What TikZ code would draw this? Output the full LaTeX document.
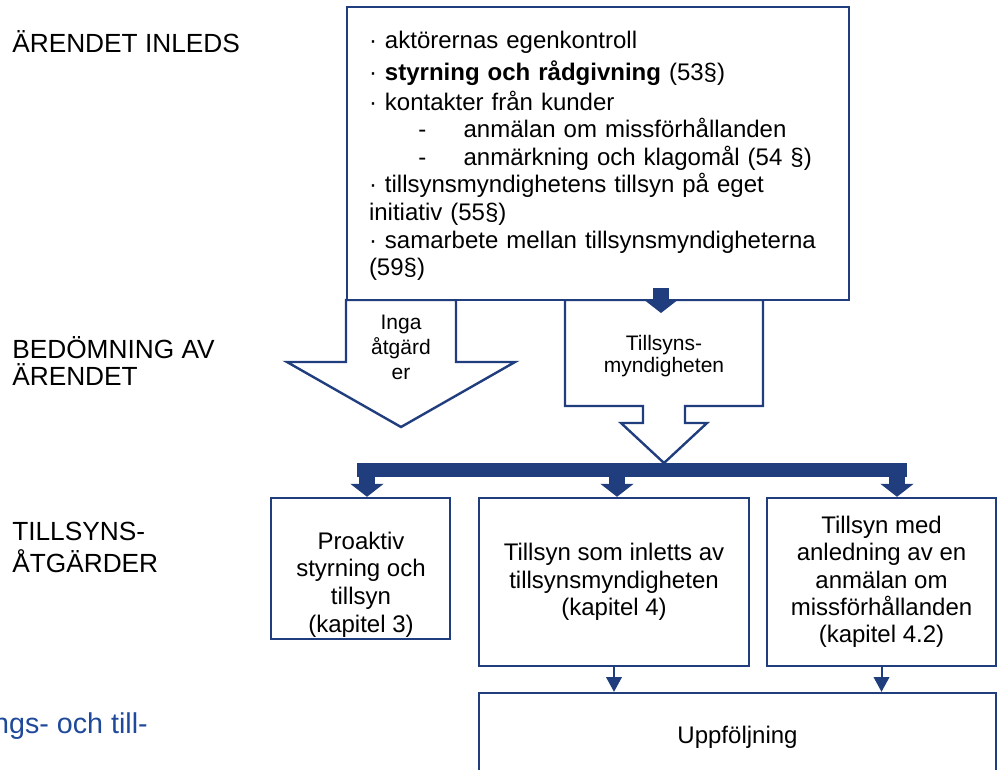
\documentclass[tikz,border=0pt]{standalone}
\usepackage{fontspec}
\setmainfont{Liberation Sans}
\usetikzlibrary{arrows.meta}

\definecolor{navy}{RGB}{32,62,126}
\definecolor{linkblue}{RGB}{31,73,155}

\begin{document}
\begin{tikzpicture}[
	x=0.75pt, y=-0.75pt,
	box/.style={
		rectangle,
		draw=navy,
		line width=1.8pt,
		fill=white,
		align=center,
		inner sep=0pt,
		font=\fontsize{18}{20.5}\selectfont
	},
	phase/.style={
		anchor=base west,
		align=left,
		inner sep=0pt,
		font=\fontsize{19.7}{20.25}\selectfont
	},
	label/.style={
		anchor=base,
		align=center,
		inner sep=0pt,
		font=\fontsize{15.75}{16.5}\selectfont
	},
	blockarrow/.style={
		draw=navy,
		line width=1.8pt,
		fill=white,
		line join=miter
	},
	fatarrow/.style={
		draw=navy,
		line width=12pt,
		-{Triangle[width=25pt,length=9.75pt,line width=0pt]}
	},
	thinarrow/.style={
		draw=navy,
		line width=1.5pt,
		-{Triangle[width=12pt,length=11pt,line width=0pt]}
	},
]

\useasboundingbox (0,0) rectangle (998,769);
\clip (0,0) rectangle (998,769);

% Phases
\node[phase] (inleds) at (12,52) {ÄRENDET INLEDS};
\node[phase] (bedomning) at (12,385) {BEDÖMNING AV\\ÄRENDET};
\node[phase, font=\fontsize{19.7}{24}\selectfont] (atgarder) at (12,572) {TILLSYNS-\\ÅTGÄRDER};
\node[anchor=base east, inner sep=0pt, text=linkblue, font=\fontsize{21.5}{24}\selectfont] (cut) at (148,733) {ngs- och till-};

% Assessment
\draw[blockarrow] (346,300) -- (456,300) -- (456,362) -- (515,362) -- (401,427) -- (287,362) -- (346,362) -- cycle;
\node[label, font=\fontsize{15.75}{18.4}\selectfont] (inga) at (401,379) {Inga\\åtgärd\\er};

\draw[blockarrow] (565,300) -- (763,300) -- (763,406) -- (685,406) -- (685,423) -- (707,423) -- (664,463) -- (621,423) -- (643,423) -- (643,406) -- (565,406) -- cycle;
\node[label] (myndighet) at (664,372) {Tillsyns-\\myndigheten};

% Sources
\node[box, align=left, text width=343.5pt, inner xsep=16.5pt, minimum height=219.75pt,
	font=\fontsize{18}{20.7}\selectfont] (kallor) at (598,153.5) {%
\rule{0pt}{17pt}· aktörernas egenkontroll\\[3pt]
· \textbf{styrning och rådgivning} (53§)\\[1.5pt]
· kontakter från kunder\\
\hspace*{37pt}-\hspace*{28pt}anmälan om missförhållanden\\
\hspace*{37pt}-\hspace*{28pt}anmärkning och klagomål (54 §)\\
· tillsynsmyndighetens tillsyn på eget\\
initiativ (55§)\\
· samarbete mellan tillsynsmyndigheterna\\
(59§)};

\coordinate (tipout) at (661,288);
\coordinate (tipin) at (661,313);
\draw[fatarrow] (tipout) -- (tipin);

% Measures
\node[fill=navy, inner sep=0pt, minimum width=412.5pt, minimum height=10.5pt] (bar) at (632,470) {};

\node[box, minimum width=134.25pt, minimum height=105.75pt] (proaktiv) at (360.5,568.5) {};
\node[label, font=\fontsize{18}{20.75}\selectfont] (proaktivtxt) at (361,632) {Proaktiv\\styrning och\\tillsyn\\(kapitel 3)};
\node[box, minimum width=202.5pt, minimum height=126pt] (inletts) at (614,582) {Tillsyn som inletts av\\tillsynsmyndigheten\\(kapitel 4)};
\node[box, minimum width=171.75pt, minimum height=126pt] (anmalan) at (881.5,582) {Tillsyn med\\anledning av en\\anmälan om\\missförhållanden\\(kapitel 4.2)};

\foreach \x/\target in {367/proaktiv, 617/inletts, 897/anmalan}
	\draw[fatarrow] (bar.south -| \x,0) -- (\target.north -| \x,0);

% Follow-up
\node[box, minimum width=387.75pt, minimum height=66pt] (uppfoljning) at (737.5,737) {Uppföljning};

\draw[thinarrow] (inletts.south) -- (inletts.south |- uppfoljning.north);
\draw[thinarrow] (anmalan.south) -- (anmalan.south |- uppfoljning.north);

\end{tikzpicture}
\end{document}
